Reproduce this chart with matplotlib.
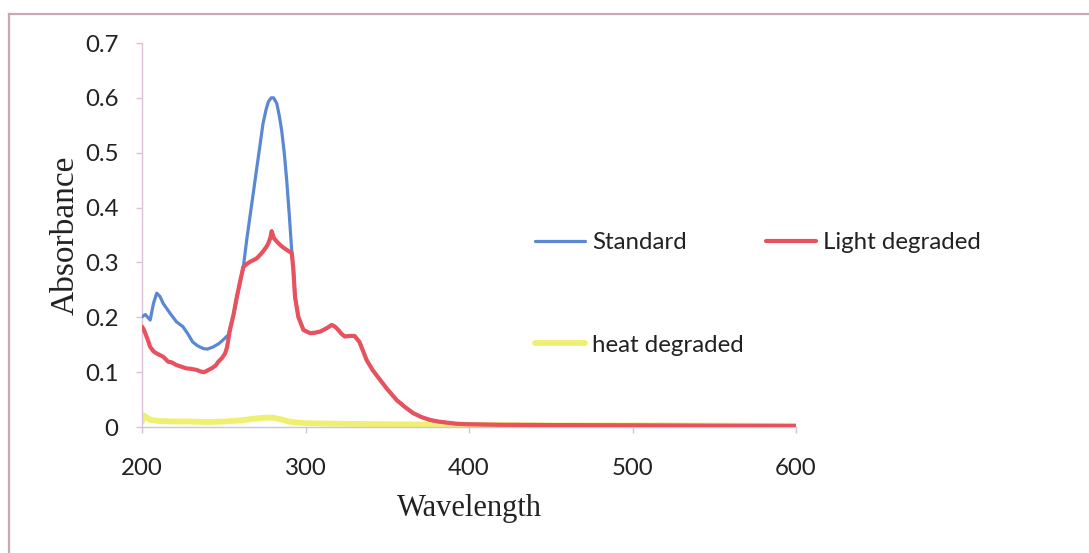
import matplotlib
matplotlib.use("Agg")
import matplotlib.pyplot as plt
from matplotlib.lines import Line2D

# ---------------- data ----------------
std_wl = [200, 202, 205, 207, 209, 211, 213, 217, 221, 225, 228, 231, 234, 237.5, 240,
          243.6, 247, 249.7, 252.8, 256, 258, 260, 262, 264, 266, 268, 270, 272, 274,
          276, 277.3, 279, 280.5, 282.4, 284, 285.4, 287, 288.5, 290, 291.6, 292.5,
          293.6, 295.6, 298.7, 302.8, 306, 309, 311, 314, 316, 318, 320, 322, 324, 327,
          330, 333, 335, 337.4, 341, 345.6, 350, 355.8, 361, 366, 371, 376, 381, 386.4,
          392, 398.7, 420, 450, 500, 550, 600]
std_abs = [0.201, 0.205, 0.195, 0.225, 0.244, 0.238, 0.225, 0.208, 0.192, 0.183, 0.170,
           0.155, 0.148, 0.143, 0.142, 0.146, 0.152, 0.159, 0.168, 0.205, 0.237, 0.265,
           0.292, 0.340, 0.383, 0.425, 0.468, 0.510, 0.553, 0.580, 0.593, 0.600, 0.600,
           0.590, 0.567, 0.541, 0.500, 0.450, 0.390, 0.320, 0.290, 0.237, 0.201, 0.177,
           0.171, 0.172, 0.174, 0.177, 0.182, 0.186, 0.183, 0.177, 0.170, 0.165, 0.166,
           0.166, 0.155, 0.140, 0.122, 0.104, 0.086, 0.069, 0.049, 0.036, 0.025, 0.018,
           0.013, 0.010, 0.008, 0.006, 0.005, 0.004, 0.0035, 0.003, 0.0025, 0.002]

light_wl = [200, 201, 202, 204, 205, 207, 209, 211, 213, 215, 216, 218, 221, 224, 227,
            230, 233.5, 236, 238, 240, 242.6, 245, 246.7, 249, 250.8, 252, 253.8, 256,
            258, 260, 262, 264, 266, 268, 270, 272, 274, 276, 277.3, 278.5, 279.3, 280.7,
            282.5, 284.4, 286.5, 288.5, 290.5, 291.6, 292.5, 293.6, 295.6, 298.7, 302.8,
            306, 309, 311, 314, 316, 318, 320, 322, 324, 327, 330, 333, 335, 337.4, 341,
            345.6, 350, 355.8, 361, 366, 371, 376, 381, 386.4, 392, 398.7, 420, 450, 500,
            550, 600]
light_abs = [0.183, 0.178, 0.171, 0.155, 0.146, 0.138, 0.134, 0.131, 0.128, 0.122, 0.119,
             0.118, 0.113, 0.110, 0.107, 0.106, 0.104, 0.101, 0.100, 0.103, 0.107, 0.112,
             0.119, 0.126, 0.134, 0.145, 0.177, 0.205, 0.237, 0.265, 0.292, 0.297, 0.301,
             0.304, 0.307, 0.313, 0.320, 0.328, 0.335, 0.345, 0.357, 0.344, 0.338, 0.332,
             0.327, 0.323, 0.319, 0.317, 0.290, 0.237, 0.201, 0.177, 0.171, 0.172, 0.174,
             0.177, 0.182, 0.186, 0.183, 0.177, 0.170, 0.165, 0.166, 0.166, 0.155, 0.140,
             0.122, 0.104, 0.086, 0.069, 0.049, 0.036, 0.025, 0.018, 0.013, 0.010, 0.008,
             0.006, 0.005, 0.004, 0.0035, 0.003, 0.0025, 0.002]

heat_wl = [200, 201, 203, 205, 210, 220, 230, 240, 250, 260, 268, 275, 280, 285, 290, 295,
           300, 320, 350, 400, 450, 500, 600]
heat_abs = [0.010, 0.021, 0.017, 0.013, 0.011, 0.010, 0.010, 0.009, 0.010, 0.012, 0.015,
            0.017, 0.017, 0.014, 0.010, 0.008, 0.007, 0.006, 0.005, 0.004, 0.003, 0.003,
            0.002]

series_names = ["Standard", "Light degraded", "heat degraded"]
x_ticks = [200, 300, 400, 500, 600]
y_ticks = [0, 0.1, 0.2, 0.3, 0.4, 0.5, 0.6, 0.7]
y_tick_labels = ["0", "0.1", "0.2", "0.3", "0.4", "0.5", "0.6", "0.7"]

# ---------------- style ----------------
W, H = 1089, 553
fig = plt.figure(figsize=(W / 100, H / 100), dpi=100)
fig.patch.set_facecolor("white")

blue = "#5a88d3"
red = "#e8525f"
yellow = "#f0f070"
tick_font = "Lato"
fs = 17.3

ax = fig.add_axes([142 / W, (H - 427) / H, (796 - 142) / W, (427 - 43) / H])

l_heat, = ax.plot(heat_wl, heat_abs, color=yellow, lw=4.2, solid_capstyle="round",
                  zorder=2, label=series_names[2])
l_std, = ax.plot(std_wl, std_abs, color=blue, lw=2.3, solid_capstyle="round",
                 zorder=3, label=series_names[0])
l_light, = ax.plot(light_wl, light_abs, color=red, lw=3.0, solid_capstyle="round",
                   zorder=4, label=series_names[1])

ax.set_xlim(200, 600)
ax.set_ylim(0, 0.7)
ax.set_xticks(x_ticks)
ax.set_yticks(y_ticks)
ax.set_yticklabels(y_tick_labels)

for s in ["top", "right"]:
    ax.spines[s].set_visible(False)
ax.spines["left"].set_color("#dcc0d8")
ax.spines["bottom"].set_color("#c8c8d4")
ax.spines["left"].set_linewidth(1.0)
ax.spines["bottom"].set_linewidth(1.0)
ax.tick_params(axis="y", direction="out", length=4, width=1.0, color="#dcc0d8",
               pad=13, labelsize=fs, labelcolor="#222222")
ax.tick_params(axis="x", direction="out", length=4, width=1.0, color="#c8c8d4",
               pad=18, labelsize=fs, labelcolor="#222222")
for lab in ax.get_xticklabels() + ax.get_yticklabels():
    lab.set_fontfamily(tick_font)

ax.set_xlabel("Wavelength", fontfamily="Liberation Serif", fontsize=22, labelpad=11,
              color="#222222")
ax.set_ylabel("Absorbance", fontfamily="Liberation Serif", fontsize=24, labelpad=3,
              color="#222222")

# legend (row-major order -> column fill order)
leg = fig.legend(handles=[l_std, l_heat, l_light],
                 labels=[series_names[0], series_names[2], series_names[1]],
                 ncol=2, loc="upper left", bbox_to_anchor=(535 / W, (H - 232) / H),
                 frameon=False, borderpad=0, borderaxespad=0,
                 handlelength=2.08, handletextpad=0.3, columnspacing=0.92,
                 labelspacing=3.4, prop={"family": tick_font, "size": fs})
for t in leg.get_texts():
    t.set_color("#222222")

# outer frame (top and left edges visible, rest cut off)
fig.add_artist(Line2D([9 / W, 1.0], [(H - 14) / H, (H - 14) / H], transform=fig.transFigure,
                      color="#c8a8b8", lw=1.6))
fig.add_artist(Line2D([9 / W, 9 / W], [0, (H - 14) / H], transform=fig.transFigure,
                      color="#c8a8b8", lw=1.6))

fig.savefig("out.png", dpi=100, facecolor="white")
